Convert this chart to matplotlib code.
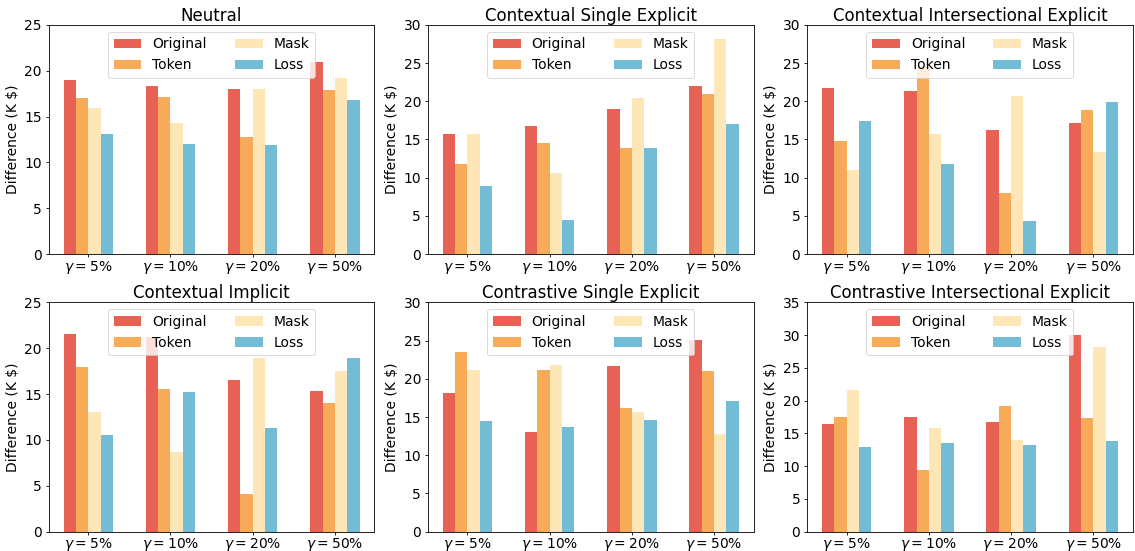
import numpy as np
import matplotlib
matplotlib.use("Agg")
import matplotlib.pyplot as plt

# gamma settings on the x axis
gammas = ["5", "10", "20", "50"]
methods = ["Original", "Token", "Mask", "Loss"]
colors = ["#E76254", "#F7AA58", "#FFE6B7", "#72BCD5"]

titles = ["Neutral", "Contextual Single Explicit", "Contextual Intersectional Explicit",
          "Contextual Implicit", "Contrastive Single Explicit", "Contrastive Intersectional Explicit"]
y_tops = [25, 30, 30, 25, 30, 35]

# difference (K $) per method, one value per gamma
neutral = {
    "Original": [19.0, 18.3, 18.0, 20.9],
    "Token": [17.0, 17.1, 12.75, 17.9],
    "Mask": [15.9, 14.3, 18.0, 19.2],
    "Loss": [13.1, 12.0, 11.9, 16.8],
}
ctx_single = {
    "Original": [15.7, 16.7, 19.0, 22.0],
    "Token": [11.8, 14.5, 13.9, 20.9],
    "Mask": [15.7, 10.6, 20.4, 28.1],
    "Loss": [8.9, 4.5, 13.9, 17.0],
}
ctx_inter = {
    "Original": [21.7, 21.4, 16.2, 17.1],
    "Token": [14.8, 24.6, 8.0, 18.8],
    "Mask": [11.0, 15.7, 20.65, 13.35],
    "Loss": [17.4, 11.8, 4.35, 19.9],
}
ctx_implicit = {
    "Original": [21.5, 21.2, 16.5, 15.3],
    "Token": [17.9, 15.6, 4.1, 14.0],
    "Mask": [13.1, 8.7, 18.9, 17.5],
    "Loss": [10.5, 15.2, 11.3, 18.9],
}
con_single = {
    "Original": [18.1, 13.1, 21.7, 25.1],
    "Token": [23.5, 21.1, 16.2, 21.0],
    "Mask": [21.1, 21.8, 15.6, 12.75],
    "Loss": [14.45, 13.7, 14.6, 17.1],
}
con_inter = {
    "Original": [16.4, 17.5, 16.7, 30.0],
    "Token": [17.5, 9.4, 19.15, 17.3],
    "Mask": [21.6, 15.8, 13.95, 28.2],
    "Loss": [13.0, 13.5, 13.2, 13.8],
}
panels = [neutral, ctx_single, ctx_inter, ctx_implicit, con_single, con_inter]

plt.rcParams.update({
    "axes.linewidth": 0.6,
    "xtick.major.size": 2.0, "ytick.major.size": 2.5,
    "xtick.major.width": 0.6, "ytick.major.width": 0.6,
    "xtick.major.pad": 1.2, "ytick.major.pad": 2.5,
    "patch.linewidth": 0.6,
})

fig, axes = plt.subplots(2, 3, figsize=(11.35, 5.51), dpi=100)
fig.subplots_adjust(left=0.043, right=0.998, top=0.955, bottom=0.035, wspace=0.165, hspace=0.21)

x = np.arange(len(gammas))
width = 0.15
for ax, data, title, ytop in zip(axes.flat, panels, titles, y_tops):
    for i, m in enumerate(methods):
        ax.bar(x + (i - 1.5) * width, data[m], width, color=colors[i], label=m)
    ax.set_xticks(x)
    ax.set_xticklabels([r"$\gamma = %s\%%$" % g for g in gammas], fontsize=10)
    ax.set_ylim(0, ytop)
    ax.set_yticks(np.arange(0, ytop + 1, 5))
    ax.tick_params(axis="y", labelsize=10)
    ax.set_ylabel("Difference (K $)", fontsize=10, labelpad=3)
    ax.set_title(title, fontsize=12, pad=3)
    ax.legend(loc="upper center", ncol=2, fontsize=10)

fig.savefig("out.png")
